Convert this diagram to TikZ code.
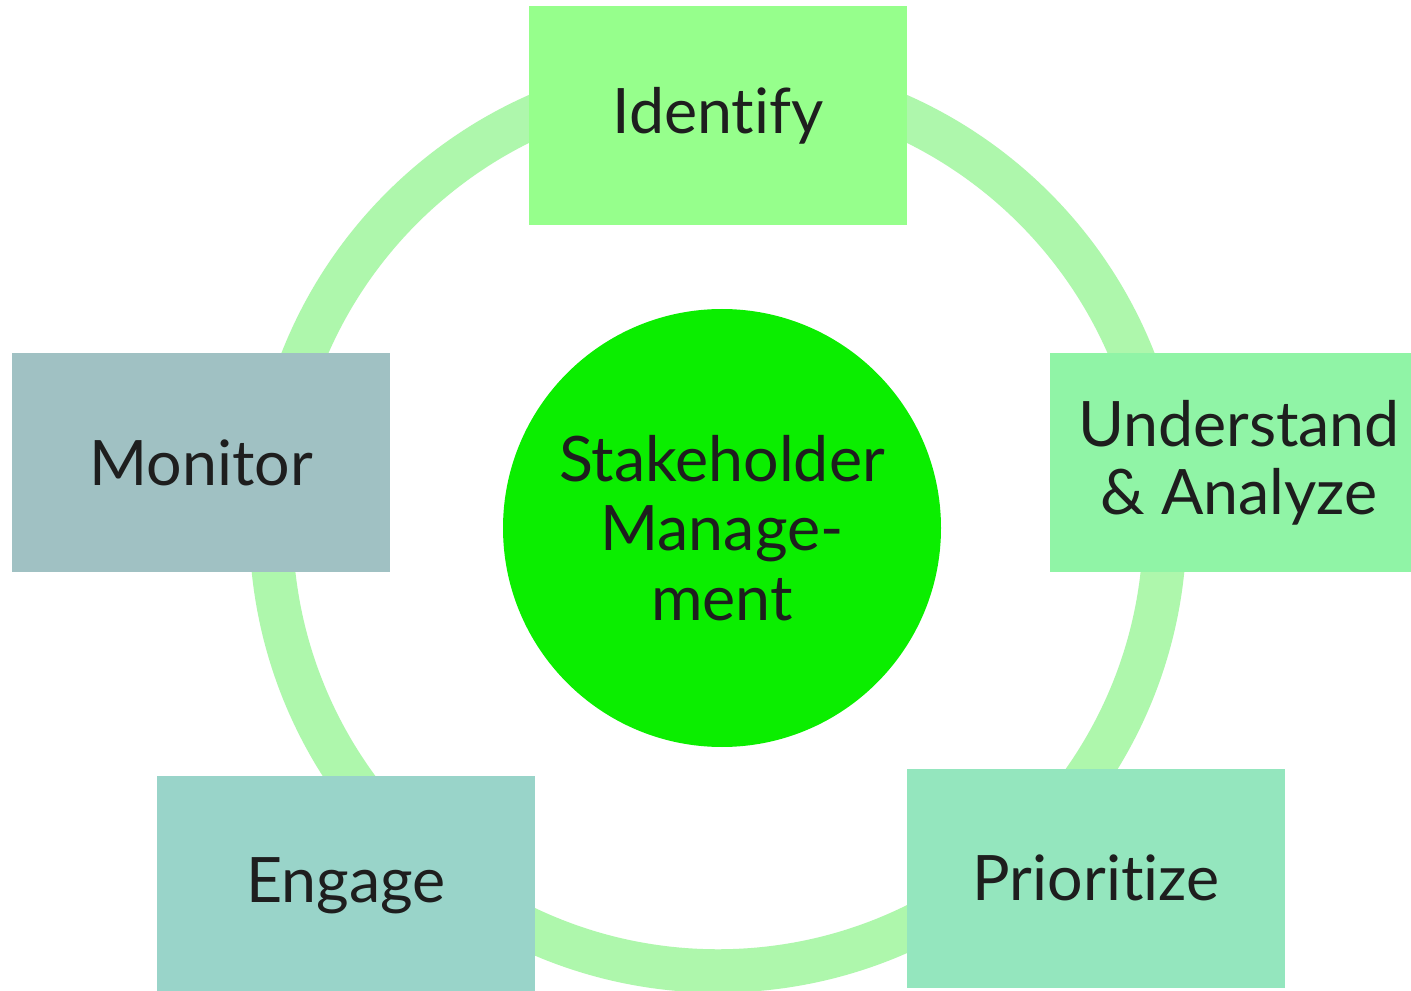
\documentclass[tikz,border=0pt]{standalone}
\usepackage{fontspec}
\setmainfont{Lato}[RawFeature={-liga;-dlig;-clig}]
\definecolor{ringc}{HTML}{AEF7AC}
\definecolor{centc}{HTML}{0BEE00}
\definecolor{idc}{HTML}{96FF8C}
\definecolor{unc}{HTML}{90F4A6}
\definecolor{prc}{HTML}{94E6BE}
\definecolor{enc}{HTML}{99D4C9}
\definecolor{moc}{HTML}{A0C1C3}
\definecolor{txt}{HTML}{1E1E1E}
\begin{document}
\begin{tikzpicture}[x=0.75pt,y=-0.75pt,
  stepbox/.style={rectangle, inner sep=0pt, minimum width=283.5pt, minimum height=164.25pt,
    text=txt, font=\fontsize{47pt}{51pt}\selectfont, align=center},
  hub/.style={circle, fill=centc, inner sep=0pt, minimum size=328.5pt, text=txt,
    font=\fontsize{47pt}{52pt}\selectfont, align=center}]
\useasboundingbox (0,0) rectangle (1411,991);
\fill[white] (0,0) rectangle (1411,991);
\draw[ringc, line width=32.6pt] (718,524) circle[radius=335.25pt];
\node[stepbox, fill=idc] (identify) at (718,116) {Identify};
\node[stepbox, fill=unc] (understand) at (1239,462.5) {Understand\\\& Analyze};
\node[stepbox, fill=prc] (prioritize) at (1096,878) {Prioritize};
\node[stepbox, fill=enc] (engage) at (346,885.5) {Engage};
\node[stepbox, fill=moc] (monitor) at (201,462.5) {Monitor};
\node[hub] (center) at (722,528) {Stakeholder\\Manage-\\ment};
\end{tikzpicture}
\end{document}
